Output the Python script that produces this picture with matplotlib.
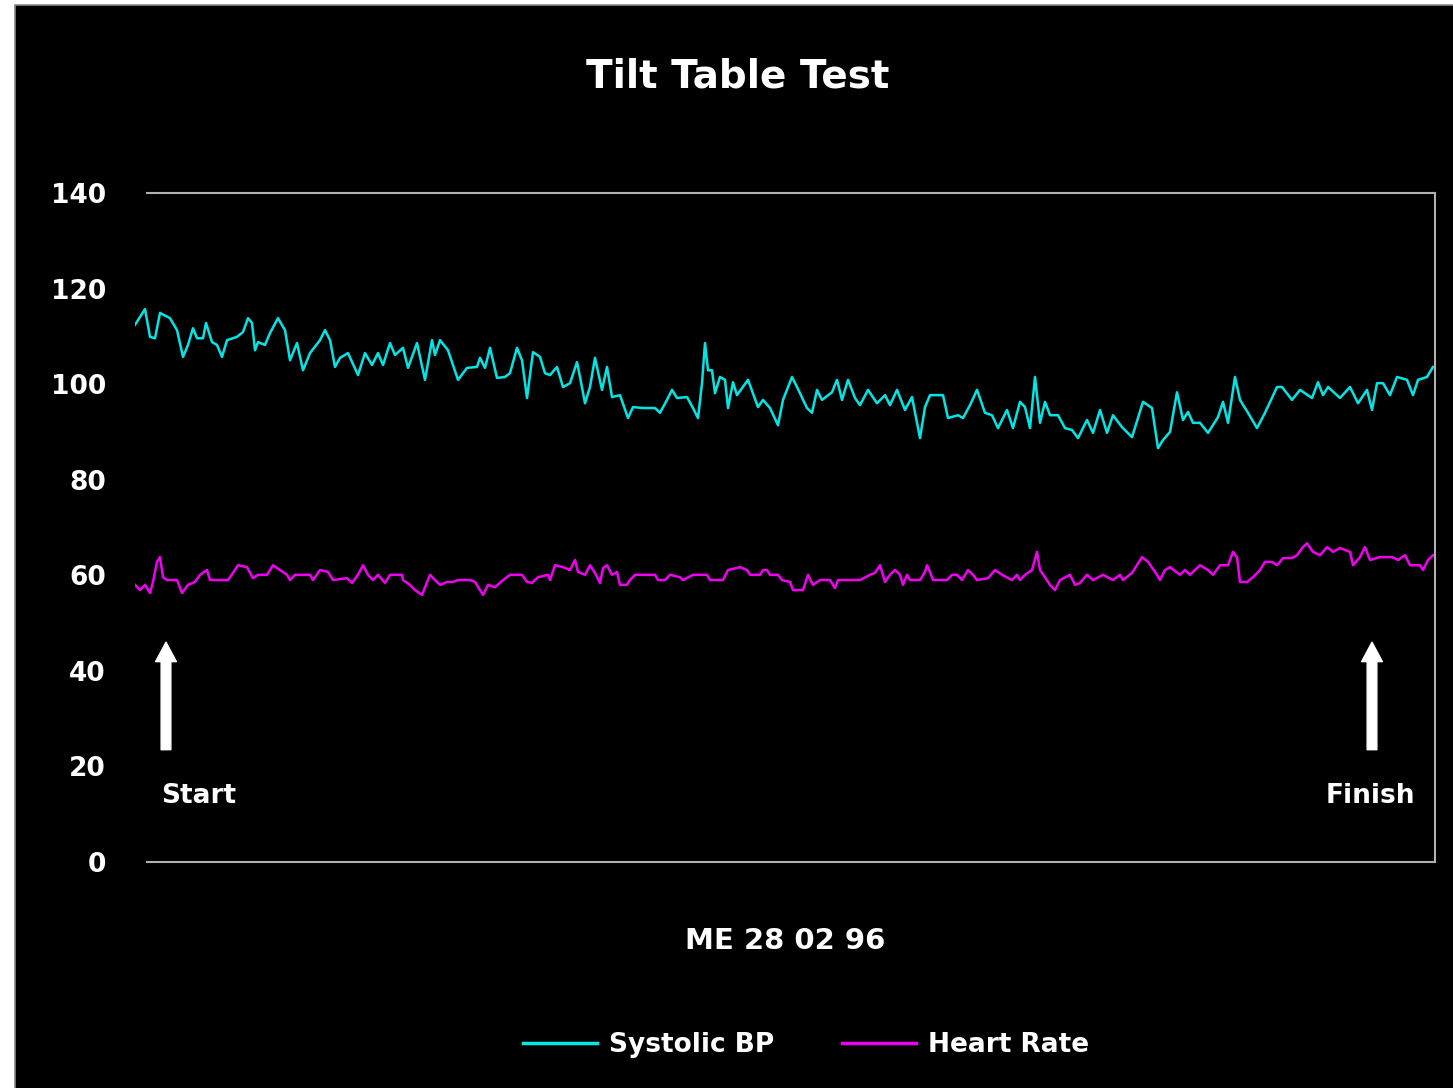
import numpy as np
import matplotlib
matplotlib.use("Agg")
import matplotlib.pyplot as plt
from matplotlib.patches import Rectangle

# Systolic BP trace (time offset, mmHg)
bp_t = [0, 10, 15, 20, 25, 35, 42, 48, 53, 58, 62, 68, 71, 77, 82, 87, 92, 102, 108, 113,
        117, 120, 123, 130, 135, 143, 150, 155, 162, 168, 175, 185, 190, 195, 200, 205, 213,
        223, 230, 237, 243, 248, 255, 260, 268, 273, 282, 290, 297, 300, 305, 313, 323, 332,
        342, 345, 350, 355, 362, 370, 375, 382, 387, 392, 398, 405, 410, 415, 422, 428, 435,
        442, 445, 450, 455, 460, 467, 472, 477, 485, 493, 498, 508, 520, 525, 532, 537, 542,
        552, 558, 563, 567, 570, 573, 577, 580, 585, 590, 593, 598, 602, 613, 623, 628, 635,
        643, 648, 657, 662, 672, 677, 682, 687, 697, 702, 707, 713, 720, 725, 733, 742, 750,
        755, 762, 770, 777, 785, 790, 795, 808, 813, 823, 828, 835, 842, 850, 857, 863, 872,
        878, 885, 890, 895, 900, 905, 910, 915, 923, 930, 937, 943, 952, 958, 965, 972, 978,
        987, 997, 1008, 1017, 1023, 1028, 1035, 1042, 1048, 1053, 1058, 1065, 1073, 1083,
        1088, 1093, 1100, 1105, 1113, 1122, 1130, 1142, 1147, 1157, 1165, 1177, 1183, 1188,
        1193, 1205, 1215, 1223, 1232, 1237, 1242, 1248, 1255, 1262, 1272, 1278, 1283, 1292,
        1298]
bp = [112.4, 115.7, 109.9, 109.6, 114.9, 113.8, 111.3, 105.7, 108.2, 111.7, 109.6, 109.6,
      112.8, 108.8, 108.2, 105.7, 109.2, 109.9, 110.9, 113.8, 112.8, 107.1, 108.8, 108.2,
      110.7, 113.8, 111.3, 105.0, 108.6, 102.9, 106.5, 109.2, 111.3, 109.2, 103.6, 105.5,
      106.5, 101.9, 106.5, 104.0, 106.5, 104.0, 108.6, 106.1, 107.6, 103.4, 108.6, 100.9,
      109.2, 106.1, 109.2, 107.1, 100.9, 103.4, 103.6, 105.5, 103.4, 107.6, 101.3, 101.5,
      102.3, 107.6, 105.0, 97.1, 106.7, 105.7, 102.3, 101.9, 103.6, 99.4, 100.2, 104.6,
      101.5, 96.0, 99.4, 105.5, 98.8, 103.6, 97.3, 97.7, 92.9, 95.2, 95.0, 95.0, 94.0, 96.7,
      98.8, 97.1, 97.3, 95.0, 92.9, 100.2, 108.6, 102.9, 102.9, 98.1, 101.5, 100.9, 95.0,
      100.4, 97.7, 100.9, 95.2, 96.7, 95.0, 91.4, 96.7, 101.5, 99.4, 95.0, 94.0, 98.8, 96.7,
      98.3, 100.9, 96.7, 100.9, 97.1, 95.6, 98.8, 96.0, 97.7, 95.6, 98.8, 94.6, 97.3, 88.7,
      95.2, 97.7, 97.7, 92.9, 93.5, 92.9, 95.6, 98.8, 94.0, 93.5, 90.8, 94.6, 90.8, 96.3,
      95.2, 90.8, 101.5, 91.9, 96.3, 93.5, 93.5, 90.8, 90.4, 88.7, 92.5, 89.8, 94.6, 89.8,
      93.5, 91.0, 88.9, 96.3, 95.0, 86.6, 88.3, 90.0, 98.3, 92.5, 94.2, 91.9, 91.9, 89.8,
      93.1, 96.3, 91.9, 101.5, 96.7, 94.0, 90.8, 94.0, 99.4, 99.4, 96.7, 98.8, 97.1, 100.4,
      97.7, 99.4, 97.1, 99.4, 96.0, 98.8, 94.6, 100.2, 100.2, 97.7, 101.5, 100.9, 97.7,
      100.9, 101.5, 103.6]

# Heart rate trace (time offset, bpm)
hr_t = [0, 5, 10, 15, 18, 22, 25, 28, 32, 42, 47, 53, 60, 65, 72, 75, 93, 98, 103, 112,
        118, 123, 132, 138, 145, 152, 155, 160, 175, 178, 185, 193, 198, 212, 217, 223, 228,
        233, 238, 243, 250, 255, 267, 268, 275, 280, 287, 295, 300, 305, 312, 318, 323, 335,
        340, 345, 348, 353, 360, 368, 375, 387, 392, 397, 403, 413, 415, 420, 428, 435, 440,
        443, 450, 455, 460, 465, 468, 472, 477, 482, 485, 492, 495, 500, 520, 523, 530, 535,
        545, 548, 558, 572, 575, 588, 593, 605, 612, 615, 625, 628, 632, 635, 643, 647, 655,
        658, 668, 673, 678, 685, 695, 700, 703, 725, 735, 740, 745, 750, 755, 760, 765, 768,
        772, 775, 785, 790, 792, 795, 798, 812, 817, 822, 827, 833, 838, 842, 853, 860, 867,
        877, 882, 885, 890, 897, 902, 905, 910, 915, 920, 925, 935, 940, 945, 952, 958, 968,
        978, 985, 988, 997, 1007, 1013, 1022, 1025, 1030, 1035, 1045, 1050, 1055, 1065, 1073,
        1078, 1085, 1093, 1098, 1102, 1105, 1112, 1118, 1125, 1130, 1137, 1142, 1148, 1157,
        1162, 1168, 1172, 1178, 1185, 1192, 1198, 1205, 1215, 1218, 1225, 1230, 1235, 1245,
        1257, 1263, 1270, 1275, 1285, 1288, 1293, 1298]
hr = [58.0, 56.9, 58.0, 56.3, 58.6, 62.8, 63.8, 59.6, 59.0, 59.0, 56.3, 58.0, 58.6, 60.1,
      61.1, 59.0, 59.0, 60.5, 62.1, 61.7, 59.4, 60.1, 60.1, 62.1, 61.1, 60.1, 59.0, 60.1,
      60.1, 59.0, 61.1, 60.7, 59.0, 59.4, 58.4, 60.1, 62.1, 60.1, 59.0, 60.1, 58.4, 60.1,
      60.1, 59.0, 58.0, 56.9, 55.9, 60.1, 59.0, 58.0, 58.6, 58.6, 59.0, 59.0, 58.6, 56.9,
      55.9, 58.0, 57.5, 59.0, 60.1, 60.1, 58.6, 58.4, 59.6, 60.1, 59.0, 62.1, 61.7, 61.1,
      63.2, 60.7, 60.1, 62.1, 60.5, 58.4, 61.5, 62.1, 60.1, 60.7, 58.0, 58.0, 59.0, 60.1,
      60.1, 59.0, 59.0, 60.1, 59.6, 59.0, 60.1, 60.1, 59.0, 59.0, 61.1, 61.7, 61.1, 60.1,
      60.1, 61.1, 61.1, 60.1, 60.1, 59.0, 58.6, 56.9, 56.9, 60.1, 58.0, 59.0, 59.0, 57.3,
      59.0, 59.0, 60.1, 60.5, 62.1, 58.6, 60.1, 61.1, 60.1, 58.0, 60.1, 59.0, 59.0, 60.7,
      62.1, 60.7, 59.0, 59.0, 60.1, 60.1, 59.0, 61.1, 60.1, 59.0, 59.4, 61.1, 60.1, 59.0,
      60.1, 59.0, 60.1, 61.1, 64.9, 61.1, 59.6, 58.0, 56.9, 59.0, 60.1, 58.0, 58.4, 60.1,
      59.0, 60.1, 59.0, 60.1, 59.0, 60.5, 63.8, 62.8, 60.1, 59.0, 61.1, 61.7, 60.1, 61.1,
      60.1, 62.1, 61.1, 60.1, 62.1, 62.1, 64.9, 63.8, 58.6, 58.6, 59.6, 61.1, 62.8, 62.8,
      62.1, 63.6, 63.6, 64.2, 65.9, 66.7, 64.9, 64.2, 65.9, 64.9, 65.7, 64.9, 62.1, 63.8,
      65.9, 63.2, 63.8, 63.8, 63.2, 64.2, 62.1, 62.1, 61.1, 63.2, 64.2]

y_ticks = [0, 20, 40, 60, 80, 100, 120, 140]
# position des flèches, et du texte sous chacune
arrow_x = {"Start": 31, "Finish": 1237}
label_x = {"Start": 64, "Finish": 1235}

W, H = 1453, 1088
fig = plt.figure(figsize=(W / 100, H / 100), dpi=100, facecolor="white")

# fond noir avec le liseré gris (derrière les axes), bords droit/bas hors cadre
bg = Rectangle((15 / W, -0.02), 1.02, 1.02 - 5 / H, transform=fig.transFigure,
               facecolor="black", edgecolor="#888888", linewidth=1.2, zorder=-10)
fig.patches.append(bg)

ax = fig.add_axes([135 / W, 1 - 862 / H, 1300 / W, 669 / H])
ax.set_zorder(5)
ax.patch.set_visible(False)

bp_line, = ax.plot(bp_t, bp, color="#00e6e6", lw=1.8, label="Systolic BP")
hr_line, = ax.plot(hr_t, hr, color="#f000f0", lw=1.8, label="Heart Rate")

ax.set_xlim(0, 1300)
ax.set_ylim(0, 140)
ax.set_xticks([])
ax.set_yticks(y_ticks)
ax.tick_params(axis="y", length=0, pad=21, labelsize=19, labelcolor="white")
for lab in ax.get_yticklabels():
    lab.set_fontweight("bold")

ax.spines["left"].set_visible(False)
for side in ["top", "bottom", "right"]:
    ax.spines[side].set_color("#b0b0b0")
    ax.spines[side].set_linewidth(1.5)
ax.spines["top"].set_bounds(12, 1300)
ax.spines["bottom"].set_bounds(12, 1300)

# flèches début / fin
for name in arrow_x:
    ax.annotate("", xy=(arrow_x[name], 46), xytext=(arrow_x[name], 23.5),
                arrowprops=dict(facecolor="white", edgecolor="white", width=7,
                                headwidth=15, headlength=14))
    ax.text(label_x[name], 13.8, name, color="white", fontsize=19, fontweight="bold",
            ha="center", va="center")

fig.text(738 / W, 1 - 77 / H, "Tilt Table Test", color="white", fontsize=28,
         fontweight="bold", ha="center", va="center")
fig.text(785 / W, 1 - 941 / H, "ME 28 02 96", color="white", fontsize=21,
         fontweight="bold", ha="center", va="center")

leg = fig.legend(handles=[bp_line, hr_line], loc="center", ncol=2, frameon=False,
                 bbox_to_anchor=(806 / W, 1 - 1045 / H), fontsize=19,
                 handlelength=2.8, handletextpad=0.45, columnspacing=2.6)
for txt in leg.get_texts():
    txt.set_color("white")
    txt.set_fontweight("bold")
for h in leg.get_lines():
    h.set_linewidth(2.5)

fig.savefig("out.png", dpi=100, facecolor=fig.get_facecolor())
